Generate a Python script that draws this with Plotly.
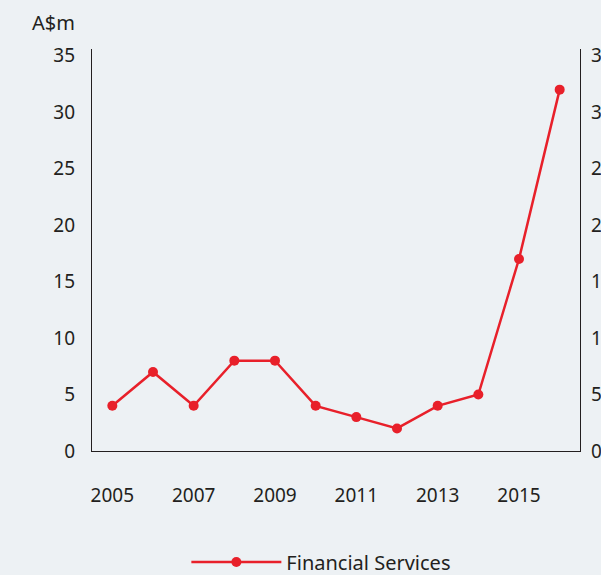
import plotly.graph_objects as go

years = [2005, 2006, 2007, 2008, 2009, 2010, 2011, 2012, 2013, 2014, 2015, 2016]
financial_services = [4, 7, 4, 8, 8, 4, 3, 2, 4, 5, 17, 32]
y_ticks = [0, 5, 10, 15, 20, 25, 30, 35]
x_ticks = [2005, 2007, 2009, 2011, 2013, 2015]

red = "#e8202a"
bg = "#edf1f4"
txt = "#231f20"

fig = go.Figure()
fig.add_trace(go.Scatter(
    x=years, y=financial_services,
    name="Financial Services",
    mode="lines+markers",
    line=dict(color=red, width=2.5),
    marker=dict(color=red, size=10),
))
# invisible copy so the right axis gets drawn
fig.add_trace(go.Scatter(
    x=years, y=financial_services, yaxis="y2",
    mode="lines", opacity=0, showlegend=False, hoverinfo="skip",
))

fig.update_layout(
    width=601, height=575,
    paper_bgcolor=bg, plot_bgcolor=bg,
    font=dict(family="Noto Sans", size=19, color=txt),
    margin=dict(l=92, r=21, t=49, b=124, autoexpand=False),
    xaxis=dict(
        range=[2004.5, 2016.5], tickvals=x_ticks, showgrid=False, zeroline=False,
        showline=True, linecolor=txt, linewidth=1.2, automargin=False,
        ticks="outside", ticklen=27, tickcolor="rgba(0,0,0,0)",
    ),
    yaxis=dict(
        range=[0, 35.6], tickvals=y_ticks, showgrid=False, zeroline=False,
        showline=True, linecolor=txt, linewidth=1.2, automargin=False,
        ticks="outside", ticklen=12, tickcolor="rgba(0,0,0,0)",
    ),
    yaxis2=dict(
        range=[0, 35.6], tickvals=y_ticks, overlaying="y", side="right",
        showgrid=False, zeroline=False, automargin=False,
        showline=True, linecolor=txt, linewidth=1.2,
        ticks="outside", ticklen=6, tickcolor="rgba(0,0,0,0)",
    ),
    legend=dict(
        orientation="h", x=0.47, xanchor="center", y=-0.276, yanchor="middle",
        itemwidth=90, font=dict(size=20), bgcolor="rgba(0,0,0,0)",
    ),
    annotations=[dict(
        text="A$m", xref="paper", yref="paper", x=-0.03, y=1.065,
        xanchor="right", yanchor="middle", showarrow=False, font=dict(size=20),
    )],
)

fig.write_html("out.html", config={"displayModeBar": False},
               post_script="document.body.style.margin='0';")
